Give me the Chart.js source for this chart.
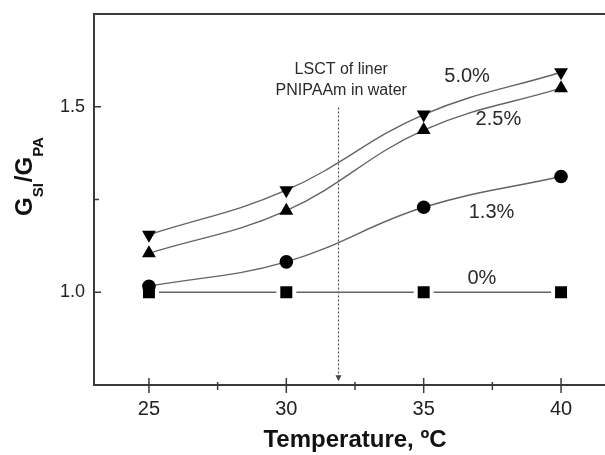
<!DOCTYPE html>
<html>
<head>
<meta charset="utf-8">
<script src="https://cdn.jsdelivr.net/npm/chart.js@4"></script>
<style>
    html, body { margin: 0; padding: 0; background: #fff; overflow: hidden; }
    #wrap { width: 620px; height: 455px; }
</style>
</head>
<body>
<div id="wrap"><canvas id="chart" width="620" height="455"></canvas></div>
<script>
    var temps = [25, 30, 35, 40];
    var ratio0 = [1.0, 1.0, 1.0, 1.0];
    var ratio13 = [1.016, 1.082, 1.229, 1.312];
    var ratio25 = [1.105, 1.22, 1.437, 1.55];
    var ratio50 = [1.155, 1.275, 1.479, 1.593];

    var seriesNames = ['0%', '1.3%', '2.5%', '5.0%'];
    var labelX = [37.12, 37.47, 37.72, 36.58];
    var labelY = [1.023, 1.200, 1.450, 1.566];

    var xTicks = [25, 30, 35, 40];
    var xMinor = [27.5, 32.5, 37.5];
    var yTicks = [1.0, 1.5];
    var yMinor = [1.25];

    var noteLines = ['LSCT of liner', 'PNIPAAm in water'];
    var noteX = 32;
    var noteY = [1.588, 1.531];
    var arrowX = 31.9;
    var arrowY = [1.498, 0.76];

    var FONT = "'Liberation Sans', Arial, sans-serif";

    function points(values) {
        return temps.map(function (t, i) {
            return { x: t, y: values[i] };
        });
    }

    function series(name, values, style, radius, rotation) {
        return {
            label: name,
            data: points(values),
            borderColor: '#646464',
            borderWidth: 1.4,
            tension: 0.4,
            pointStyle: style,
            pointRadius: radius,
            pointRotation: rotation || 0,
            pointBackgroundColor: '#000',
            pointBorderColor: '#000',
            pointBorderWidth: 0,
            clip: false,
            order: 0
        };
    }

    function stroke(ctx, x1, y1, x2, y2) {
        ctx.beginPath();
        ctx.moveTo(x1, y1);
        ctx.lineTo(x2, y2);
        ctx.stroke();
    }

    function noPadding(scale) {
        scale.paddingTop = 0;
        scale.paddingBottom = 0;
        scale.paddingLeft = 0;
        scale.paddingRight = 0;
    }

    var decor = {
        id: 'decor',
        beforeDatasetsDraw: function (chart) {
            var ctx = chart.ctx, a = chart.chartArea;
            var xs = chart.scales.x, ys = chart.scales.y;
            ctx.save();
            ctx.strokeStyle = '#3a3a3a';
            ctx.lineWidth = 2;
            ctx.strokeRect(a.left, a.top, a.right - a.left, a.bottom - a.top);

            ctx.lineWidth = 1.5;
            xTicks.forEach(function (v) {
                var px = xs.getPixelForValue(v);
                stroke(ctx, px, a.bottom - 7, px, a.bottom + 8);
            });
            xMinor.forEach(function (v) {
                var px = xs.getPixelForValue(v);
                stroke(ctx, px, a.bottom - 3, px, a.bottom + 5);
            });
            yTicks.forEach(function (v) {
                var py = ys.getPixelForValue(v);
                stroke(ctx, a.left, py, a.left + 7, py);
            });
            yMinor.forEach(function (v) {
                var py = ys.getPixelForValue(v);
                stroke(ctx, a.left, py, a.left + 5, py);
            });

            // dotted LCST marker
            var ax = xs.getPixelForValue(arrowX);
            var y1 = ys.getPixelForValue(arrowY[0]);
            var y2 = ys.getPixelForValue(arrowY[1]);
            ctx.strokeStyle = '#555';
            ctx.lineWidth = 1.2;
            ctx.setLineDash([2, 2]);
            stroke(ctx, ax, y1, ax, y2 - 5);
            ctx.setLineDash([]);
            ctx.fillStyle = '#444';
            ctx.beginPath();
            ctx.moveTo(ax - 3, y2 - 6);
            ctx.lineTo(ax + 3, y2 - 6);
            ctx.lineTo(ax, y2);
            ctx.closePath();
            ctx.fill();
            ctx.restore();
        },
        afterDraw: function (chart) {
            var ctx = chart.ctx;
            var xs = chart.scales.x, ys = chart.scales.y;
            ctx.save();
            ctx.fillStyle = '#2a2a2a';
            ctx.textAlign = 'center';
            ctx.textBaseline = 'alphabetic';

            ctx.font = '16px ' + FONT;
            noteLines.forEach(function (s, i) {
                ctx.fillText(s, xs.getPixelForValue(noteX), ys.getPixelForValue(noteY[i]));
            });

            ctx.font = '20px ' + FONT;
            seriesNames.forEach(function (s, i) {
                ctx.fillText(s, xs.getPixelForValue(labelX[i]), ys.getPixelForValue(labelY[i]));
            });

            // y axis title with subscripts
            ctx.translate(32, 216);
            ctx.rotate(-Math.PI / 2);
            ctx.textAlign = 'left';
            ctx.fillStyle = '#111';
            var parts = [['G', 0, 24], ['SI', 11, 15], ['/G', 0, 24], ['PA', 11, 15]];
            var pos = 0;
            parts.forEach(function (p) {
                ctx.font = 'bold ' + p[2] + 'px ' + FONT;
                ctx.fillText(p[0], pos, p[1]);
                pos += ctx.measureText(p[0]).width + (p[1] ? 1 : 0);
            });
            ctx.restore();
        }
    };

    // squares sit underneath the other series, with a white rim that breaks the flat line
    var squares = series(seriesNames[0], ratio0, 'rect', 11.3);
    squares.pointBorderColor = '#fff';
    squares.pointBorderWidth = 4;
    squares.order = 1;

    new Chart(document.getElementById('chart'), {
        type: 'line',
        data: {
            datasets: [
                squares,
                series(seriesNames[1], ratio13, 'circle', 6.8),
                series(seriesNames[2], ratio25, 'triangle', 8),
                series(seriesNames[3], ratio50, 'triangle', 8, 180)
            ]
        },
        options: {
            responsive: false,
            animation: false,
            layout: { autoPadding: false, padding: { top: 14, right: 4, left: 0, bottom: 0 } },
            plugins: {
                legend: { display: false },
                tooltip: { enabled: false }
            },
            scales: {
                x: {
                    type: 'linear',
                    min: 23,
                    max: 42,
                    grid: { display: false, drawTicks: false },
                    border: { display: false },
                    afterBuildTicks: function (scale) {
                        scale.ticks = xTicks.map(function (v) { return { value: v }; });
                    },
                    afterFit: function (scale) {
                        scale.height = 70;
                        noPadding(scale);
                    },
                    ticks: {
                        padding: 12,
                        color: '#222',
                        font: { family: FONT, size: 20 },
                        maxRotation: 0
                    },
                    title: {
                        display: true,
                        text: 'Temperature, ºC',
                        color: '#111',
                        padding: 0,
                        font: { family: FONT, size: 24, weight: 'bold' }
                    }
                },
                y: {
                    min: 0.75,
                    max: 1.75,
                    grid: { display: false, drawTicks: false },
                    border: { display: false },
                    afterBuildTicks: function (scale) {
                        scale.ticks = yTicks.map(function (v) { return { value: v }; });
                    },
                    afterFit: function (scale) {
                        scale.width = 94;
                        noPadding(scale);
                    },
                    ticks: {
                        padding: 9,
                        color: '#222',
                        font: { family: FONT, size: 18 },
                        callback: function (v) { return v.toFixed(1); }
                    }
                }
            }
        },
        plugins: [decor]
    });
</script>
</body>
</html>
